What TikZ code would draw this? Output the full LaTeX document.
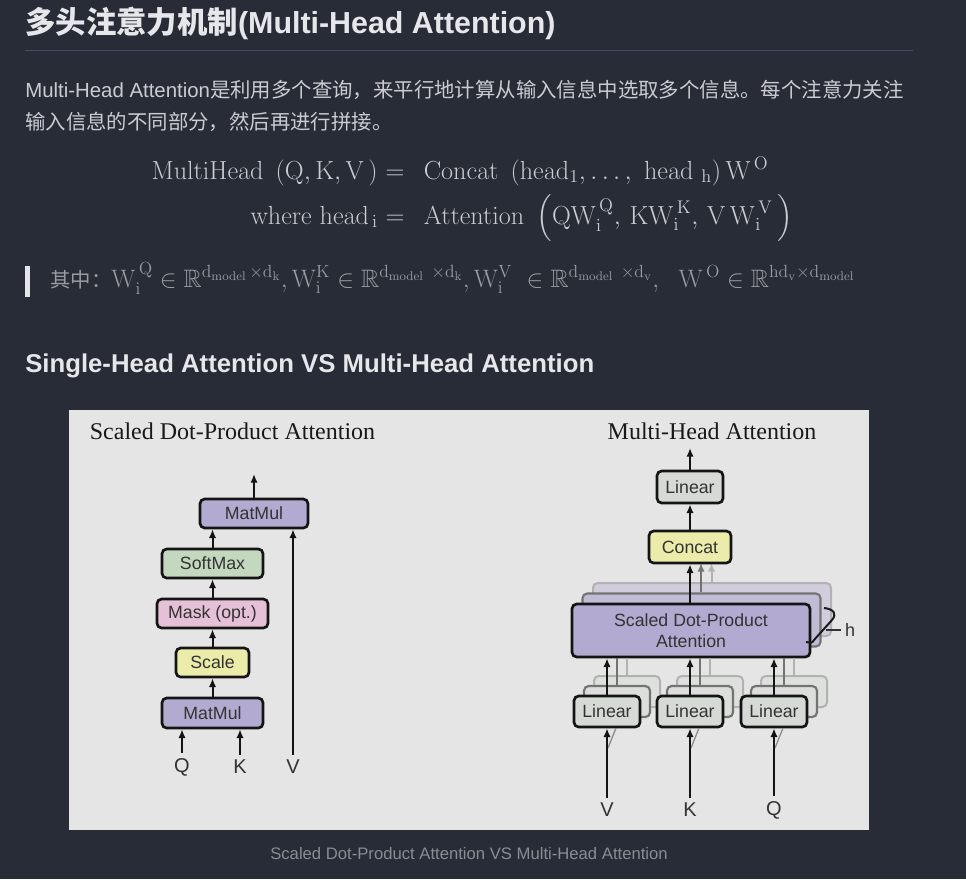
\RequirePackage{fix-cm}
\documentclass[tikz,border=0pt]{standalone}
\usepackage{amsmath,amssymb}
\usepackage[no-math]{fontspec}
\newfontfamily\arial{Liberation Sans}
\newfontfamily\tnr{Liberation Serif}
\newfontfamily\cjk{Noto Sans CJK SC}
\usetikzlibrary{arrows.meta}
\definecolor{pagebg}{HTML}{282C36}
\definecolor{bodytxt}{HTML}{CBCCD1}
\definecolor{titletxt}{HTML}{E6E7EA}
\definecolor{rulec}{HTML}{474D62}
\definecolor{quotetxt}{HTML}{9A9BA2}
\definecolor{quotebar}{HTML}{E4E5EA}
\definecolor{captxt}{HTML}{8A8C94}
\definecolor{figbg}{HTML}{E5E5E5}
\definecolor{cpurple}{HTML}{B2AAD0}
\definecolor{cgreen}{HTML}{C4D8C0}
\definecolor{cpink}{HTML}{E6C0D6}
\definecolor{cyellow}{HTML}{EBEBAA}
\definecolor{cgray}{HTML}{D5DAD5}
\tikzset{
  sz/.style 2 args={minimum width=#1*0.75pt, minimum height=#2*0.75pt},
  blk/.style={draw=black!92, line width=2pt, rounded corners=3.5pt, inner sep=0pt,
    font=\arial\fontsize{13.3}{15.5}\selectfont, text=black!80, align=center},
  shA/.style={draw=black!55, line width=1.6pt, rounded corners=3.5pt, inner sep=0pt},
  shB/.style={draw=black!30, line width=1.5pt, rounded corners=3.5pt, inner sep=0pt},
  arr/.style={line width=1.5pt, draw=black!92, -{Latex[length=6.5pt,width=5.5pt]}},
  garrA/.style={line width=1.5pt, draw=black!55, -{Latex[length=6.5pt,width=5.5pt]}},
  garrB/.style={line width=1.5pt, draw=black!30, -{Latex[length=6.5pt,width=5.5pt]}},
  glineA/.style={line width=1.5pt, draw=black!55},
  glineB/.style={line width=1.5pt, draw=black!30},
  lab/.style={font=\arial\fontsize{15}{17}\selectfont, inner sep=0pt, outer sep=4pt, text=black!80},
  figtitle/.style={font=\tnr\fontsize{18}{20}\selectfont, text=black!90, inner sep=0pt},
  eqn/.style={font=\fontsize{19.6}{23}\selectfont, text=bodytxt, inner sep=0pt},
}
\begin{document}
\begin{tikzpicture}[x=0.75pt,y=-0.75pt]
\fill[pagebg] (0,0) rectangle (966,879);
\useasboundingbox (0,0) rectangle (966,879);

% ---------- page text ----------
\node[anchor=base west, inner sep=0pt, text=titletxt] (title) at (25,33)
  {{\cjk\bfseries\fontsize{22.8}{26}\selectfont 多头注意力机制}{\arial\bfseries\fontsize{22.8}{26}\selectfont (Multi-Head Attention)}};
\draw[rulec, line width=0.75pt] (25,50) -- (913,50);

\node[anchor=base west, inner sep=0pt, text=bodytxt] (body1) at (25,97)
  {{\arial\fontsize{15.3}{18}\selectfont Multi-Head Attention}{\cjk\fontsize{15.3}{18}\selectfont 是利用多个查询，来平行地计算从输入信息中选取多个信息。每个注意力关注}};
\node[anchor=base west, inner sep=0pt, text=bodytxt] (body2) at (25,129)
  {{\cjk\fontsize{15.3}{18}\selectfont 输入信息的不同部分，然后再进行拼接。}};

\node[eqn, anchor=base east] (eq1l) at (378,179)
  {$\mathrm{MultiHead}\ \left(\mathrm{Q},\mathrm{K},\mathrm{V}\,\right)$};
\node[eqn, anchor=base west] (eq1r) at (378,179)
  {${}=\ \,\mathrm{Concat}\ \left(\mathrm{head}_1,\ldots,\ \mathrm{head}_{\ \mathrm{h}}\right)\mathrm{W}^{\,\mathrm{O}}$};
\node[eqn, anchor=base east] (eq2l) at (378,224)
  {$\mathrm{where\ head}_{\,\mathrm{i}}$};
\node[eqn, anchor=base west] (eq2r) at (378,224)
  {${}=\ \,\mathrm{Attention}\ \left(\mathrm{QW}_{\mathrm{i}}^{\,\mathrm{Q}},\,\mathrm{KW}_{\mathrm{i}}^{\,\mathrm{K}},\,\mathrm{V\,W}_{\mathrm{i}}^{\,\mathrm{V}}\,\right)$};

\fill[quotebar] (25,266) rectangle (30,297);
\node[anchor=base west, inner sep=0pt, text=quotetxt, font=\fontsize{18.9}{22}\selectfont] (quote) at (50,287)
  {{\cjk\fontsize{15.3}{18}\selectfont 其中：}$\mathrm{W}_{\mathrm{i}}^{\,\mathrm{Q}} \in \mathbb{R}^{\mathrm{d}_{\mathrm{model}}\,\times \mathrm{d}_{\mathrm{k}}}, \mathrm{W}_{\mathrm{i}}^{\mathrm{K}} \in \mathbb{R}^{\mathrm{d}_{\mathrm{model}}\ \times \mathrm{d}_{\mathrm{k}}}, \mathrm{W}_{\mathrm{i}}^{\mathrm{V}}\ \in \mathbb{R}^{\mathrm{d}_{\mathrm{model}}\ \times \mathrm{d}_{\mathrm{v}}},\ \ \mathrm{W}^{\,\mathrm{O}} \in \mathbb{R}^{\mathrm{hd}_{\mathrm{v}}\times \mathrm{d}_{\mathrm{model}}}$};

\node[anchor=base west, inner sep=0pt, text=titletxt] (sec) at (25,372)
  {\arial\bfseries\fontsize{19.3}{22}\selectfont Single-Head Attention VS Multi-Head Attention};

\node[anchor=base, inner sep=0pt, text=captxt] (cap) at (469,859)
  {\arial\fontsize{12.5}{15}\selectfont Scaled Dot-Product Attention VS Multi-Head Attention};

% ---------- figure ----------
\fill[figbg] (69,410) rectangle (869,830);

% left: scaled dot-product attention
\node[figtitle] (tl) at (232.5,431) {Scaled Dot-Product Attention};
\node[blk, fill=cpurple, sz={108}{29}] (mmT) at (254,513.5) {MatMul};
\node[blk, fill=cgreen, sz={101}{29}] (soft) at (212.5,563.5) {SoftMax};
\node[blk, fill=cpink, sz={111}{29}] (mask) at (212.5,613.5) {Mask (opt.)};
\node[blk, fill=cyellow, sz={73}{29}] (scale) at (212.5,662.5) {Scale};
\node[blk, fill=cpurple, sz={101}{30}] (mmB) at (212.5,713) {MatMul};
\node[lab] (qL) at (182,767) {Q};
\node[lab] (kL) at (240,767) {K};
\node[lab] (vL) at (293,767) {V};
\coordinate (outL) at (254,474);
\draw[arr] (mmB.north) -- (scale.south);
\draw[arr] (scale.north) -- (mask.south);
\draw[arr] (mask.north) -- (soft.south);
\draw[arr] (soft.north) -- (soft.north |- mmT.south);
\draw[arr] (mmT.north) -- (outL);
\draw[arr] (qL.north) -- (qL.north |- mmB.south);
\draw[arr] (kL.north) -- (kL.north |- mmB.south);
\draw[arr] (vL.north) -- (vL.north |- mmT.south);

% right: multi-head attention
\node[figtitle] (tr) at (712,431) {Multi-Head Attention};

% sdpa stack
\node[shB, fill=cpurple!40!figbg, sz={238}{53}] (sd2) at (712,609.5) {};
\node[shA, fill=cpurple!70!figbg, sz={238}{53}] (sd1) at (701.5,620) {};
\coordinate (c1) at (701,563);
\coordinate (c2) at (711.5,563);
\draw[garrB] (sd2.north -| c2) -- (c2);
\draw[garrA] (sd1.north -| c1) -- (c1);
\node[blk, fill=cpurple, sz={238}{53}] (sdpa) at (691,630.5) {Scaled Dot-Product\\Attention};

\node[blk, fill=cyellow, sz={82}{32}] (concat) at (690,547) {Concat};
\node[blk, fill=cgray, sz={66}{32}] (linT) at (690,487) {Linear};
\coordinate (outR) at (690,448);
\draw[arr] (sdpa.north -| concat.south) -- (concat.south);
\draw[arr] (concat.north) -- (linT.south);
\draw[arr] (linT.north) -- (outR);

% brace and h
\draw[line width=1.5pt, black!90] (824,608) .. controls (834,609) and (837,614) .. (832,620)
  -- (814,640) .. controls (812,643) .. (806,642);
\draw[line width=1pt, black!80] (826,630) -- (841,630);
\node[font=\arial\fontsize{13.5}{16}\selectfont, text=black!80, inner sep=0pt] (hL) at (850,630) {h};

% bottom linear stacks
\foreach \cx/\nm/\lb in {607/lv/V, 690/lk/K, 774/lq/Q}{
  \node[shB, fill=cgray!45!figbg, sz={66}{31}] (\nm2) at (\cx+20,691.5) {};
  \draw[glineB] (\nm2.north) -- (\nm2.north |- sdpa.south);
  \node[shA, fill=cgray!65!figbg, sz={66}{31}] (\nm1) at (\cx+10,701.5) {};
  \draw[glineA] (\nm1.north) -- (\nm1.north |- sdpa.south);
  \node[blk, fill=cgray, sz={66}{31}] (\nm) at (\cx,711.5) {Linear};
  \draw[arr] (\nm.north) -- (\nm.north |- sdpa.south);
  \node[lab] (\nm in) at (\cx,810) {\lb};
  \coordinate (\nm w) at (\cx+1,748);
  \coordinate (\nm t) at (\cx+9,728);
  \draw[line width=1pt, black!45] (\nm w) -- (\nm t);
  \draw[arr] (\nm in.north) -- (\nm.south);
}
\end{tikzpicture}
\end{document}
